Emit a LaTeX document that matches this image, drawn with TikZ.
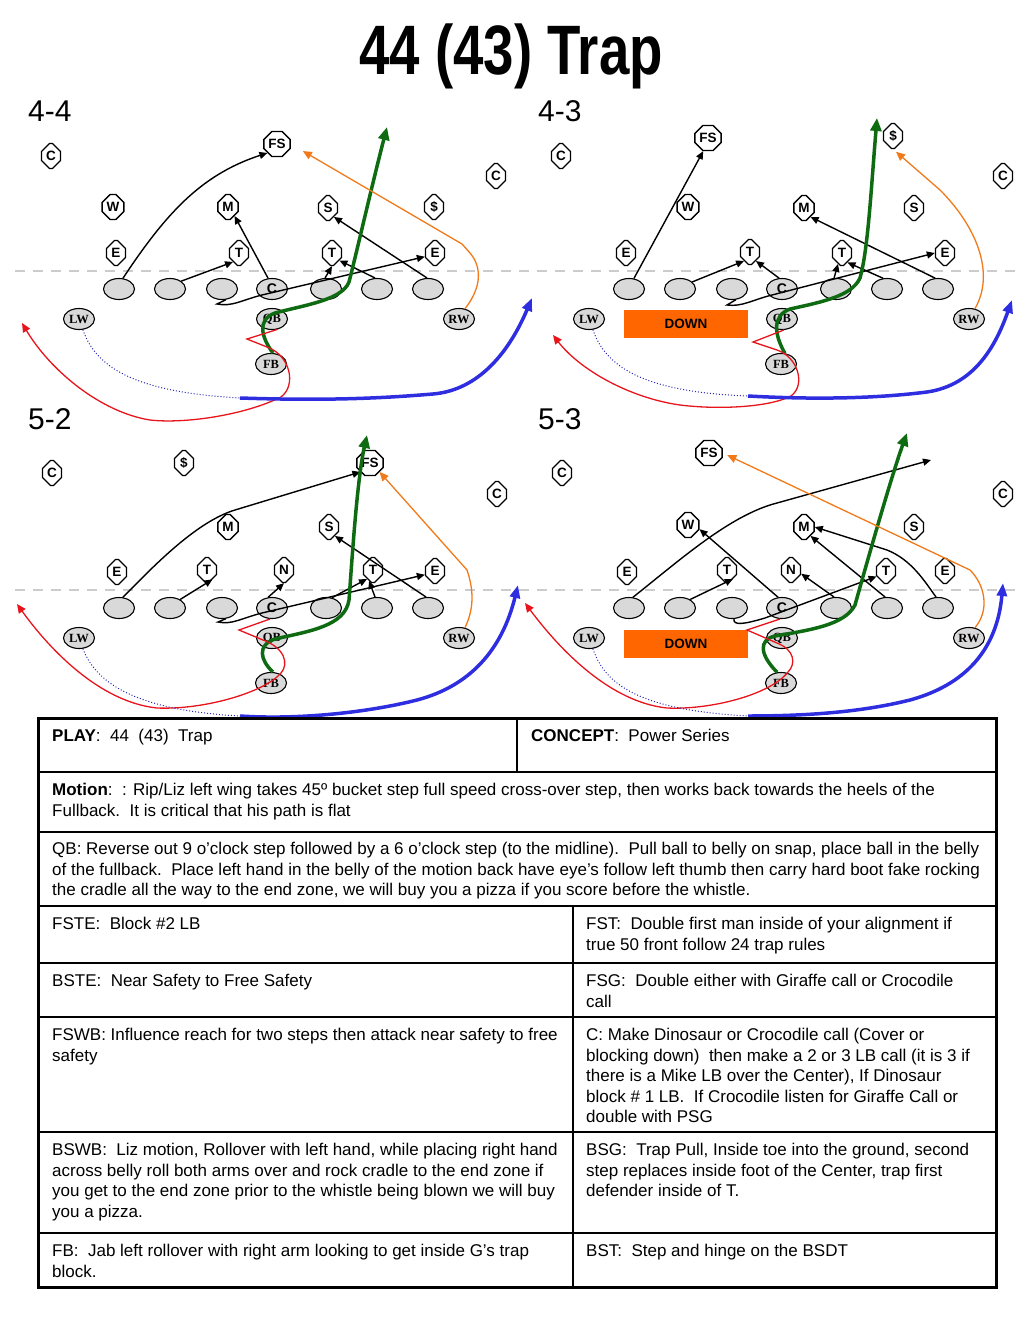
\documentclass[tikz,border=0pt]{standalone}
\usepackage{fontspec}
\setmainfont{Liberation Sans}
\newfontfamily\serifbold{Liberation Serif}
\newfontfamily\titlefont[FakeStretch=0.78]{Liberation Sans}
\usetikzlibrary{arrows.meta,shapes.geometric,shapes.misc}
\definecolor{playgreen}{HTML}{0E6B12}
\definecolor{playblue}{HTML}{2E2EE0}
\definecolor{playred}{HTML}{E8141C}
\definecolor{playorange}{HTML}{F07A1A}
\definecolor{downorange}{HTML}{FF6600}
\definecolor{linegray}{HTML}{D9D9D9}
\definecolor{yardgray}{HTML}{CCCCCC}

\begin{document}
\begin{tikzpicture}[
    x=1pt, y=-1pt,
    defender/.style={chamfered rectangle, chamfered rectangle xsep=4.5pt, draw, line width=1.3pt, fill=white, inner sep=0pt, minimum width=19pt, minimum height=25pt, font=\bfseries\fontsize{13.5}{13.5}\selectfont},
    lineman/.style={ellipse, draw, line width=1.1pt, fill=linegray, inner sep=0pt, minimum width=31pt, minimum height=21pt, font=\bfseries\fontsize{14}{14}\selectfont},
    backfield/.style={lineman, font=\serifbold\bfseries\fontsize{12.5}{12.5}\selectfont},
    downbox/.style={rectangle, fill=downorange, inner sep=0pt, minimum width=124pt, minimum height=28pt, font=\bfseries\fontsize{13.5}{13.5}\selectfont},
    panellabel/.style={anchor=base west, inner sep=0pt, font=\fontsize{30}{30}\selectfont},
    tablecell/.style={anchor=north west, align=left, inner sep=0pt, font=\fontsize{17}{20.5}\selectfont},
    yard/.style={draw=yardgray, line width=2.5pt, dash pattern=on 10pt off 8pt},
    blockarrow/.style={-{Triangle[length=8pt,width=7pt]}, line width=1.4pt},
    greenrun/.style={-{Triangle[length=13pt,width=11pt]}, draw=playgreen, line width=3.5pt},
    redrun/.style={-{Triangle[length=9pt,width=8pt]}, draw=playred, line width=1.3pt},
    orangerun/.style={-{Triangle[length=9pt,width=8pt]}, draw=playorange, line width=1.3pt},
    motionpath/.style={draw=playblue!80!black, line width=1pt, dotted},
    bluerun/.style={-{Triangle[length=13pt,width=10pt]}, draw=playblue, line width=3.5pt}
  ]
    \useasboundingbox (0,0) rectangle (1023,1319);

    % title
    \node[font=\titlefont\bfseries\fontsize{70}{70}\selectfont, anchor=base] (title) at (511,75) {44 (43) Trap};

    % line of scrimmage
    \draw[yard] (15,271) -- (1020,271);
    \draw[yard] (15,590) -- (1020,590);

    % offense, same in every front
    \foreach \p/\dx/\dy in {a/0/0, b/510/0, c/0/319, d/510/319}{
      \begin{scope}[shift={(\dx,\dy)}]
        \node[lineman] (\p le) at (119,289) {};
        \node[lineman] (\p lt) at (170,289) {};
        \node[lineman] (\p lg) at (222,289) {};
        \node[lineman] (\p c) at (272,289) {C};
        \node[lineman] (\p rg) at (326,289) {};
        \node[lineman] (\p rt) at (377,289) {};
        \node[lineman] (\p re) at (428,289) {};
        \node[backfield] (\p lw) at (79,319) {LW};
        \node[backfield] (\p qb) at (272,319) {QB};
        \node[backfield] (\p rw) at (459,319) {RW};
        \node[backfield] (\p fb) at (271,364) {FB};
      \end{scope}
    }

    % 4-4
    \node[panellabel] (lab44) at (28,122) {4-4};
    \node[defender] (aC1) at (51,156) {C};
    \node[defender] (aFS) at (277,144) {FS};
    \node[defender] (aC2) at (496,176) {C};
    \node[defender] (aW) at (113,207) {W};
    \node[defender] (aM) at (228,207) {M};
    \node[defender] (aS) at (328,208) {S};
    \node[defender] (aD) at (434,207) {\$};
    \node[defender] (aE1) at (116,253) {E};
    \node[defender] (aT1) at (239,253) {T};
    \node[defender] (aT2) at (332,253) {T};
    \node[defender] (aE2) at (435,253) {E};
    \draw[blockarrow] (ale.70) .. controls (165,215) and (200,175) .. (aFS.south west);
    \draw[blockarrow] (alt.35) -- (aT1.south west);
    \draw[blockarrow] (ac.110) -- (aM.south east);
    \draw[blockarrow] (alg.-70) -- (217,304) .. controls (232,307) and (242,300) .. (262,295) -- (aE2.200);
    \draw[blockarrow] (arg.95) -- (aT2.south);
    \draw[blockarrow] (art.100) -- (aT2.-45);
    \draw[blockarrow] (are.95) -- (aS.south east);
    \coordinate (agoal) at (387,127);
    \draw[greenrun] (afb.80) .. controls (262,338) and (256,320) .. (275,313) .. controls (305,305) and (342,300) .. (349,282) .. controls (356,255) and (372,185) .. (agoal);
    \draw[orangerun, shorten >=14pt] (arw.60) .. controls (486,282) and (478,262) .. (470,253) -- (462,244) -- (aFS.east);
    \coordinate (ared) at (22,323);
    \draw[redrun] (aqb.-60) -- (247,339) -- (267,347) .. controls (290,355) and (297,385) .. (281,397) .. controls (245,415) and (185,424) .. (150,420) .. controls (100,412) and (50,370) .. (ared);
    \coordinate (amot) at (240,398);
    \coordinate (ablue) at (532,298);
    \draw[motionpath] (alw.-70) .. controls (95,365) and (130,392) .. (amot);
    \draw[bluerun] (amot) .. controls (330,401) and (385,398) .. (433,394) .. controls (480,390) and (510,350) .. (ablue);

    % 4-3
    \node[panellabel] (lab43) at (538,122) {4-3};
    \node[defender] (bC1) at (561,156) {C};
    \node[defender] (bFS) at (708,138) {FS};
    \node[defender] (bD) at (893,136) {\$};
    \node[defender] (bC2) at (1003,176) {C};
    \node[defender] (bW) at (688,207) {W};
    \node[defender] (bM) at (804,208) {M};
    \node[defender] (bS) at (914,208) {S};
    \node[defender] (bE1) at (626,253) {E};
    \node[defender] (bT1) at (750,252) {T};
    \node[defender] (bT2) at (842,253) {T};
    \node[defender] (bE2) at (945,253) {E};
    \node[downbox] (bdown) at (686,324) {DOWN};
    \draw[blockarrow] (ble.65) -- (bFS.-110);
    \draw[blockarrow] (blt.30) -- (bT1.south west);
    \draw[blockarrow] (bc.105) -- (bT1.south east);
    \draw[blockarrow] (blg.-70) -- (727,305) .. controls (742,307) and (752,300) .. (772,295) -- (bE2.west);
    \draw[blockarrow] (brg.100) -- (bT2.-110);
    \draw[blockarrow] (brt.110) -- (bT2.-60);
    \draw[blockarrow] (bre.105) -- (bM.south east);
    \coordinate (bgoal) at (877,118);
    \draw[greenrun] (bfb.70) .. controls (775,336) and (771,316) .. (790,309) .. controls (822,302) and (852,296) .. (860,278) .. controls (868,250) and (871,190) .. (bgoal);
    \draw[orangerun, shorten >=4pt] (brw.60) .. controls (996,272) and (975,225) .. (940,190) -- (bD.south);
    \coordinate (bred) at (553,335);
    \draw[redrun] (bqb.-80) -- (753,342) -- (777,350) .. controls (798,357) and (806,385) .. (791,396) .. controls (770,407) and (720,410) .. (680,405) .. controls (630,398) and (580,370) .. (bred);
    \coordinate (bmot) at (748,396);
    \coordinate (bblue) at (1012,300);
    \draw[motionpath] (blw.-70) .. controls (605,365) and (640,392) .. (bmot);
    \draw[bluerun] (bmot) .. controls (820,400) and (880,398) .. (927,392) .. controls (975,385) and (996,345) .. (bblue);

    % 5-2
    \node[panellabel] (lab52) at (28,429) {5-2};
    \node[defender] (cC1) at (52,473) {C};
    \node[defender] (cD) at (184,463) {\$};
    \node[defender] (cFS) at (370,463) {FS};
    \node[defender] (cC2) at (497,494) {C};
    \node[defender] (cM) at (228,527) {M};
    \node[defender] (cS) at (329,527) {S};
    \node[defender] (cE1) at (117,572) {E};
    \node[defender] (cT1) at (207,570) {T};
    \node[defender] (cN) at (284,570) {N};
    \node[defender] (cT2) at (373,570) {T};
    \node[defender] (cE2) at (435,571) {E};
    \draw[blockarrow] (cle.70) .. controls (150,570) and (195,522) .. (235,510) -- (cFS.south west);
    \draw[blockarrow] (clt.40) -- (cT1.-60);
    \draw[blockarrow] (cc.110) -- (cN.south);
    \draw[blockarrow] (clg.-70) -- (218,622) .. controls (232,625) and (242,618) .. (262,613) -- (cE2.200);
    \draw[blockarrow] (crg.60) -- (cT2.south west);
    \draw[blockarrow] (crt.100) -- (cT2.-110);
    \draw[blockarrow] (cre.100) -- (cS.south east);
    \coordinate (cgoal) at (367,435);
    \draw[greenrun] (cfb.80) .. controls (260,660) and (257,645) .. (275,639) .. controls (310,631) and (345,626) .. (349,600) .. controls (352,560) and (357,480) .. (cgoal);
    \draw[orangerun] (crw.60) .. controls (476,605) and (472,585) .. (467,570) -- (cFS.south east);
    \coordinate (cred) at (17,604);
    \draw[redrun] (cc.-100) -- (239,630) -- (263,640) .. controls (285,648) and (289,664) .. (281,673) .. controls (265,692) and (205,710) .. (157,708) .. controls (100,702) and (50,650) .. (cred);
    \coordinate (cmot) at (240,716);
    \coordinate (cblue) at (518,585);
    \draw[motionpath] (clw.-70) .. controls (95,680) and (130,710) .. (cmot);
    \draw[bluerun] (cmot) .. controls (300,720) and (370,712) .. (417,700) .. controls (470,686) and (502,650) .. (cblue);

    % 5-3
    \node[panellabel] (lab53) at (538,429) {5-3};
    \node[defender] (dC1) at (562,473) {C};
    \node[defender] (dFS) at (709,453) {FS};
    \node[defender] (dC2) at (1003,494) {C};
    \node[defender] (dW) at (688,525) {W};
    \node[defender] (dM) at (804,527) {M};
    \node[defender] (dS) at (914,527) {S};
    \node[defender] (dE1) at (627,572) {E};
    \node[defender] (dT1) at (727,570) {T};
    \node[defender] (dN) at (791,570) {N};
    \node[defender] (dT2) at (886,571) {T};
    \node[defender] (dE2) at (945,571) {E};
    \node[downbox] (ddown) at (686,644) {DOWN};
    \coordinate (dfree) at (931,460);
    \draw[blockarrow] (dle.70) .. controls (680,560) and (730,515) .. (777,503) -- (dfree);
    \draw[blockarrow] (dlt.40) -- (dT1.south east);
    \draw[blockarrow] (dc.110) -- (dW.-20);
    \draw[blockarrow] (dlg.-80) .. controls (733,626) and (745,624) .. (765,618) -- (dT2.210);
    \draw[blockarrow] (drg.100) -- (dN.-20);
    \draw[blockarrow] (drt.100) -- (dM.south east);
    \draw[blockarrow] (dre.100) .. controls (925,582) and (912,560) .. (887,550) -- (dM.east);
    \coordinate (dgoal) at (907,433);
    \draw[greenrun] (dfb.110) .. controls (760,655) and (758,640) .. (775,636) .. controls (810,630) and (845,625) .. (855,605) .. controls (862,580) and (890,480) .. (dgoal);
    \draw[orangerun, shorten >=5pt] (drw.60) .. controls (990,610) and (985,585) .. (970,570) -- (dFS.east);
    \coordinate (dred) at (525,603);
    \draw[redrun] (dc.-100) -- (747,630) -- (777,643) .. controls (795,650) and (796,664) .. (788,672) .. controls (770,695) and (710,710) .. (667,708) .. controls (610,702) and (560,650) .. (dred);
    \coordinate (dmot) at (748,716);
    \coordinate (dblue) at (1003,583);
    \draw[motionpath] (dlw.-70) .. controls (605,685) and (640,710) .. (dmot);
    \draw[bluerun] (dmot) .. controls (820,716) and (870,710) .. (910,700) .. controls (965,685) and (997,650) .. (dblue);

    % play card
    \draw[line width=3pt] (38,718) rectangle (996,1287);
    \draw[line width=2pt] (38,772) -- (996,772);
    \draw[line width=2pt] (38,832) -- (996,832);
    \draw[line width=2pt] (38,906) -- (996,906);
    \draw[line width=2pt] (38,963) -- (996,963);
    \draw[line width=2pt] (38,1017) -- (996,1017);
    \draw[line width=2pt] (38,1132) -- (996,1132);
    \draw[line width=2pt] (38,1233) -- (996,1233);
    \draw[line width=2pt] (517,718) -- (517,772);
    \draw[line width=2pt] (573,906) -- (573,1287);
    \node[tablecell] (play) at (52,729) {\textbf{PLAY}:\ \ 44\ \ (43)\ \ Trap};
    \node[tablecell] (concept) at (531,729) {\textbf{CONCEPT}:\ \ Power Series};
    \node[tablecell] (motion) at (52,783) {\textbf{Motion}:\ \ : Rip/Liz left wing takes 45º bucket step full speed cross-over step, then works back towards the heels of the\\Fullback.\ \ It is critical that his path is flat};
    \node[tablecell] (qbrule) at (52,842) {QB: Reverse out 9 o’clock step followed by a 6 o’clock step (to the midline).\ \ Pull ball to belly on snap, place ball in the belly\\of the fullback.\ \ Place left hand in the belly of the motion back have eye’s follow left thumb then carry hard boot fake rocking\\the cradle all the way to the end zone, we will buy you a pizza if you score before the whistle.};
    \node[tablecell] (fste) at (52,917) {FSTE:\ \ Block \#2 LB};
    \node[tablecell] (fst) at (586,917) {FST:\ \ Double first man inside of your alignment if\\true 50 front follow 24 trap rules};
    \node[tablecell] (bste) at (52,974) {BSTE:\ \ Near Safety to Free Safety};
    \node[tablecell] (fsg) at (586,974) {FSG:\ \ Double either with Giraffe call or Crocodile\\call};
    \node[tablecell] (fswb) at (52,1028) {FSWB: Influence reach for two steps then attack near safety to free\\safety};
    \node[tablecell] (crule) at (586,1028) {C: Make Dinosaur or Crocodile call (Cover or\\blocking down)\ \ then make a 2 or 3 LB call (it is 3 if\\there is a Mike LB over the Center), If Dinosaur\\block \# 1 LB.\ \ If Crocodile listen for Giraffe Call or\\double with PSG};
    \node[tablecell] (bswb) at (52,1143) {BSWB:\ \ Liz motion, Rollover with left hand, while placing right hand\\across belly roll both arms over and rock cradle to the end zone if\\you get to the end zone prior to the whistle being blown we will buy\\you a pizza.};
    \node[tablecell] (bsg) at (586,1143) {BSG:\ \ Trap Pull, Inside toe into the ground, second\\step replaces inside foot of the Center, trap first\\defender inside of T.};
    \node[tablecell] (fbrule) at (52,1244) {FB:\ \ Jab left rollover with right arm looking to get inside G’s trap\\block.};
    \node[tablecell] (bst) at (586,1244) {BST:\ \ Step and hinge on the BSDT};
  \end{tikzpicture}
\end{document}
